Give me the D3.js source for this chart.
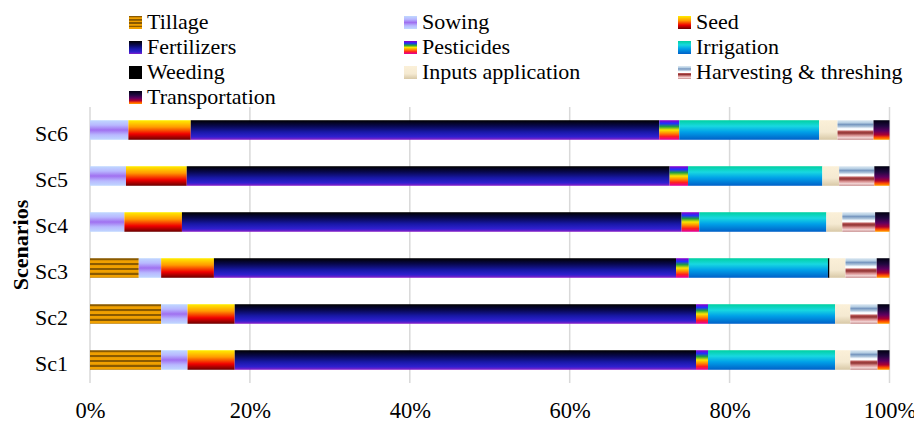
<!DOCTYPE html>
<html>
<head>
<meta charset="utf-8">
<script src="https://cdn.jsdelivr.net/npm/d3@7"></script>
<style>
  html, body { margin: 0; padding: 0; background: #fff; }
  svg { display: block; }
</style>
</head>
<body>
<svg id="chart" width="914" height="422"></svg>
<script>
// ---- data ----
const scenarios = ["Sc1", "Sc2", "Sc3", "Sc4", "Sc5", "Sc6"];
const seriesNames = ["Tillage", "Sowing", "Seed", "Fertilizers", "Pesticides", "Irrigation",
  "Weeding", "Inputs application", "Harvesting & threshing", "Transportation"];
const tillage      = [8.9, 8.9, 6.1, 0.0, 0.0, 0.0];
const sowing       = [3.3, 3.3, 2.8, 4.3, 4.5, 4.8];
const seed         = [5.9, 5.9, 6.6, 7.2, 7.6, 7.8];
const fertilizers  = [57.7, 57.7, 57.8, 62.5, 60.4, 58.6];
const pesticides   = [1.5, 1.5, 1.6, 2.2, 2.3, 2.5];
const irrigation   = [15.9, 15.9, 17.4, 15.9, 16.8, 17.5];
const weeding      = [0.0, 0.0, 0.2, 0.0, 0.0, 0.0];
const inputsApp    = [1.9, 1.9, 2.0, 2.0, 2.1, 2.3];
const harvesting   = [3.4, 3.4, 3.9, 4.1, 4.4, 4.5];
const transport    = [1.5, 1.5, 1.6, 1.8, 1.9, 2.0];
const xTicks = [0, 0.2, 0.4, 0.6, 0.8, 1.0];

const seriesValues = [tillage, sowing, seed, fertilizers, pesticides, irrigation,
  weeding, inputsApp, harvesting, transport];
const table = scenarios.map((s, i) => {
  const row = { scenario: s };
  seriesNames.forEach((n, k) => row[n] = seriesValues[k][i]);
  return row;
});

const FONT = "'Liberation Serif', 'Times New Roman', serif";

// ---- fills (vertical gradients) ----
function stripes(c1, c2, n) {
  const st = [];
  for (let i = 0; i < n; i++) {
    const a = i / n, b = (i + 1) / n;
    st.push([a, c2], [a + (b - a) * 0.35, c2], [a + (b - a) * 0.5, c1], [b - (b - a) * 0.1, c1], [b, c2]);
  }
  return st;
}
const gradStops = {
  "Tillage": stripes("#f0a000", "#8a5a00", 4),
  "Sowing": [[0, "#c0d8ff"], [0.25, "#b8b8ff"], [0.5, "#a070f0"], [0.75, "#b8b8ff"], [1, "#c0d8ff"]],
  "Seed": [[0, "#ffee00"], [0.35, "#ff9a00"], [0.7, "#f00000"], [1, "#6a0000"]],
  "Fertilizers": [[0, "#000000"], [0.3, "#080850"], [0.6, "#1818a8"], [0.85, "#3020d0"], [1, "#8a20c8"]],
  "Pesticides": [[0, "#8a00c8"], [0.17, "#2030ff"], [0.33, "#20a040"], [0.5, "#f8e800"], [0.67, "#ff8a00"], [0.83, "#ff2020"], [1, "#e000a0"]],
  "Irrigation": [[0, "#00d0a0"], [0.3, "#18d8e0"], [0.6, "#00a0e8"], [1, "#0060c8"]],
  "Weeding": [[0, "#000000"], [1, "#000000"]],
  "Inputs application": [[0, "#fbf0d8"], [0.6, "#f5ead2"], [1, "#d8c8a6"]],
  "Harvesting & threshing": [[0, "#dce8f2"], [0.12, "#b8d0e4"], [0.22, "#7898c0"], [0.32, "#a8c0d8"], [0.42, "#f4f8fc"], [0.5, "#ffffff"],
    [0.55, "#c06060"], [0.65, "#903030"], [0.78, "#d89090"], [0.9, "#f4d8d8"], [1, "#c08080"]],
  "Transportation": [[0, "#000010"], [0.3, "#200840"], [0.55, "#600060"], [0.75, "#b00030"], [0.88, "#ff5000"], [1, "#ffa000"]]
};

const svg = d3.select("#chart");
const defs = svg.append("defs");
seriesNames.forEach((n, k) => {
  const g = defs.append("linearGradient").attr("id", "g" + k)
    .attr("x1", 0).attr("y1", 0).attr("x2", 0).attr("y2", 1);
  gradStops[n].forEach(([o, c]) => g.append("stop").attr("offset", o).attr("stop-color", c));
});

// ---- scales ----
const x = d3.scaleLinear().domain([0, 1]).range([90, 889.5]);
const y = d3.scaleBand().domain(scenarios.slice().reverse()).range([107, 383]).paddingInner(0.575).paddingOuter(0.2875);

// gridlines
svg.append("g").selectAll("line").data(xTicks).join("line")
  .attr("x1", d => x(d)).attr("x2", d => x(d))
  .attr("y1", 107).attr("y2", 383)
  .attr("stroke", "#d9d9d9").attr("stroke-width", 1.5);

// stacked bars
const stack = d3.stack().keys(seriesNames).offset(d3.stackOffsetExpand);
const layers = stack(table);
svg.append("g").selectAll("g").data(layers).join("g")
  .attr("fill", (d, i) => `url(#g${i})`)
  .selectAll("rect").data(d => d).join("rect")
  .attr("x", d => x(d[0]))
  .attr("width", d => Math.max(0, x(d[1]) - x(d[0])))
  .attr("y", d => y(d.data.scenario))
  .attr("height", y.bandwidth());

// x axis
const xAxis = d3.axisBottom(x).tickValues(xTicks).tickFormat(d3.format(".0%")).tickSize(0).tickPadding(0);
const gx = svg.append("g").attr("transform", "translate(0,418)").call(xAxis);
gx.select(".domain").remove();
gx.selectAll("text").attr("dy", 0).attr("fill", "#000")
  .style("font-family", FONT).style("font-size", "22.5px");

// y axis
const yAxis = d3.axisLeft(y).tickSize(0).tickPadding(0);
const gy = svg.append("g").attr("transform", "translate(68,0)").call(yAxis);
gy.select(".domain").remove();
gy.selectAll("text").attr("dy", "0.5em").attr("fill", "#000")
  .style("font-family", FONT).style("font-size", "22px");

svg.append("text")
  .attr("transform", "translate(28,245) rotate(-90)")
  .attr("text-anchor", "middle")
  .style("font-family", FONT).style("font-size", "22px").style("font-weight", "bold")
  .text("Scenarios");

// legend
const colX = [129, 404, 678];
const legend = svg.append("g");
seriesNames.forEach((n, k) => {
  const col = k % 3, row = Math.floor(k / 3);
  const gx0 = colX[col], gy0 = 16 + row * 25;
  legend.append("rect").attr("x", gx0).attr("y", gy0).attr("width", 13).attr("height", 13)
    .attr("fill", `url(#g${k})`);
  legend.append("text").attr("x", gx0 + 18).attr("y", gy0 + 13)
    .attr("fill", "#000")
    .style("font-family", FONT).style("font-size", "22px")
    .text(n);
});
</script>
</body>
</html>
